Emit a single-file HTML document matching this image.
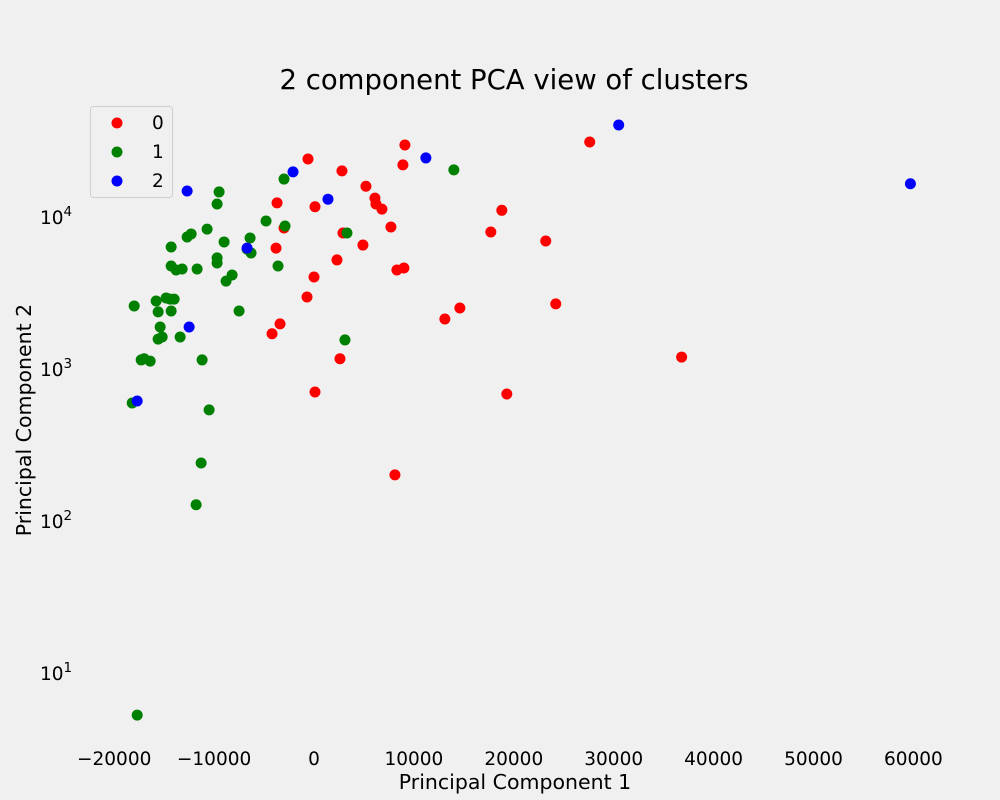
<!DOCTYPE html>
<html><head><meta charset="utf-8"><style>
body{margin:0;background:#f0f0f0;overflow:hidden;}
svg text{font-family:"DejaVu Sans","Liberation Sans",sans-serif;fill:#000;}
</style></head><body>
<svg id="chart" width="1000" height="800" xmlns="http://www.w3.org/2000/svg" style="display:block">
<rect width="1000" height="800" fill="#f0f0f0"/>
<text x="514" y="89" font-size="27.5" text-anchor="middle">2 component PCA view of clusters</text>
<text x="515" y="789" font-size="20.5" text-anchor="middle">Principal Component 1</text>
<text transform="translate(31,420) rotate(-90)" font-size="20.5" text-anchor="middle">Principal Component 2</text>
<g id="xticks"></g>
<g id="yticks"></g>
<g id="points"></g>
<g>
<rect x="90.5" y="106.5" width="82" height="91" rx="3" fill="#f0f0f0" stroke="#d0d0d0"/>
<circle cx="117" cy="123" r="5.5" fill="#ff0000"/>
<text x="152" y="129" font-size="18.5">0</text>
<circle cx="117" cy="152" r="5.5" fill="#008000"/>
<text x="152" y="158" font-size="18.5">1</text>
<circle cx="117" cy="181" r="5.5" fill="#0000ff"/>
<text x="152" y="187" font-size="18.5">2</text>
</g>
</svg>
<script>
const xTicks=[-20000,-10000,0,10000,20000,30000,40000,50000,60000];
const yTickExps=[1,2,3,4];
const cluster0X=[-600,2800,9100,8900,5200,100,-3700,6100,6200,6800,7700,2900,-3000,-3800,4900,2300,0,8300,9000,-700,-3400,-4200,2600,100,8100,27600,18800,17700,23200,24200,14600,13100,36800,19300];
const cluster0Y=[23700,19800,29300,21700,15700,11500,12200,13100,12000,11100,8470,7730,8340,6150,6440,5140,3970,4410,4550,2930,1950,1680,1150,695,198,30700,10900,7850,6850,2640,2480,2100,1180,674];
const cluster1X=[-3000,14000,-9500,-9700,-4800,-10700,-2900,3300,-12700,-12300,-6400,-9000,-14300,-6300,-9700,-9700,-8200,-3600,-14300,-13800,-13200,-11700,-8800,-14800,-15800,-14000,-14400,-18000,-15600,-14300,-7500,-15400,-13400,-15200,-15600,3100,-17300,-17000,-16400,-11200,-18200,-10500,-11300,-11800,-17700,-6700];
const cluster1Y=[17500,20100,14400,12000,9270,8200,8590,7730,7280,7620,7170,6750,6250,5710,5300,4910,4090,4690,4690,4410,4480,4480,3730,2890,2760,2840,2840,2560,2340,2370,2370,1860,1600,1600,1550,1530,1130,1150,1110,1130,589,530,237,126,5.2,6060];
const cluster2X=[30500,59700,11200,-2100,1400,-12700,-6700,-12500,-17700];
const cluster2Y=[39700,16300,24100,19500,12900,14600,6150,1860,607];
const NS='http://www.w3.org/2000/svg';
function xs(v){return 314+v*0.00999;}
function ys(v){return 216-(Math.log10(v)-4)*152;}
const xg=document.getElementById('xticks');
xTicks.forEach(t=>{
  const e=document.createElementNS(NS,'text');
  
  
  e.setAttribute('x',xs(t));e.setAttribute('y',765);
  e.setAttribute('font-size','18.5');e.setAttribute('text-anchor','middle');
  e.textContent=(t<0?'\u2212'+(-t):String(t));
  xg.appendChild(e);
});
const yg=document.getElementById('yticks');
yTickExps.forEach(k=>{
  const y=ys(Math.pow(10,k));
  const e=document.createElementNS(NS,'text');
  
  
  e.setAttribute('x',40);e.setAttribute('y',y+8);e.setAttribute('font-size','18.5');
  e.textContent='10';
  const s=document.createElementNS(NS,'tspan');
  s.setAttribute('font-size','13.5');s.setAttribute('dy','-8');
  s.textContent=String(k);
  e.appendChild(s);
  yg.appendChild(e);
});
const pg=document.getElementById('points');
function draw(X,Y,color,name){
  X.forEach((v,i)=>{
    const c=document.createElementNS(NS,'circle');
    
    
    c.setAttribute('cx',xs(v));c.setAttribute('cy',ys(Y[i]));
    c.setAttribute('r',5.5);c.setAttribute('fill',color);
    pg.appendChild(c);
  });
}
draw(cluster0X,cluster0Y,'#ff0000','point-cluster-0');
draw(cluster1X,cluster1Y,'#008000','point-cluster-1');
draw(cluster2X,cluster2Y,'#0000ff','point-cluster-2');
</script>
</body></html>
